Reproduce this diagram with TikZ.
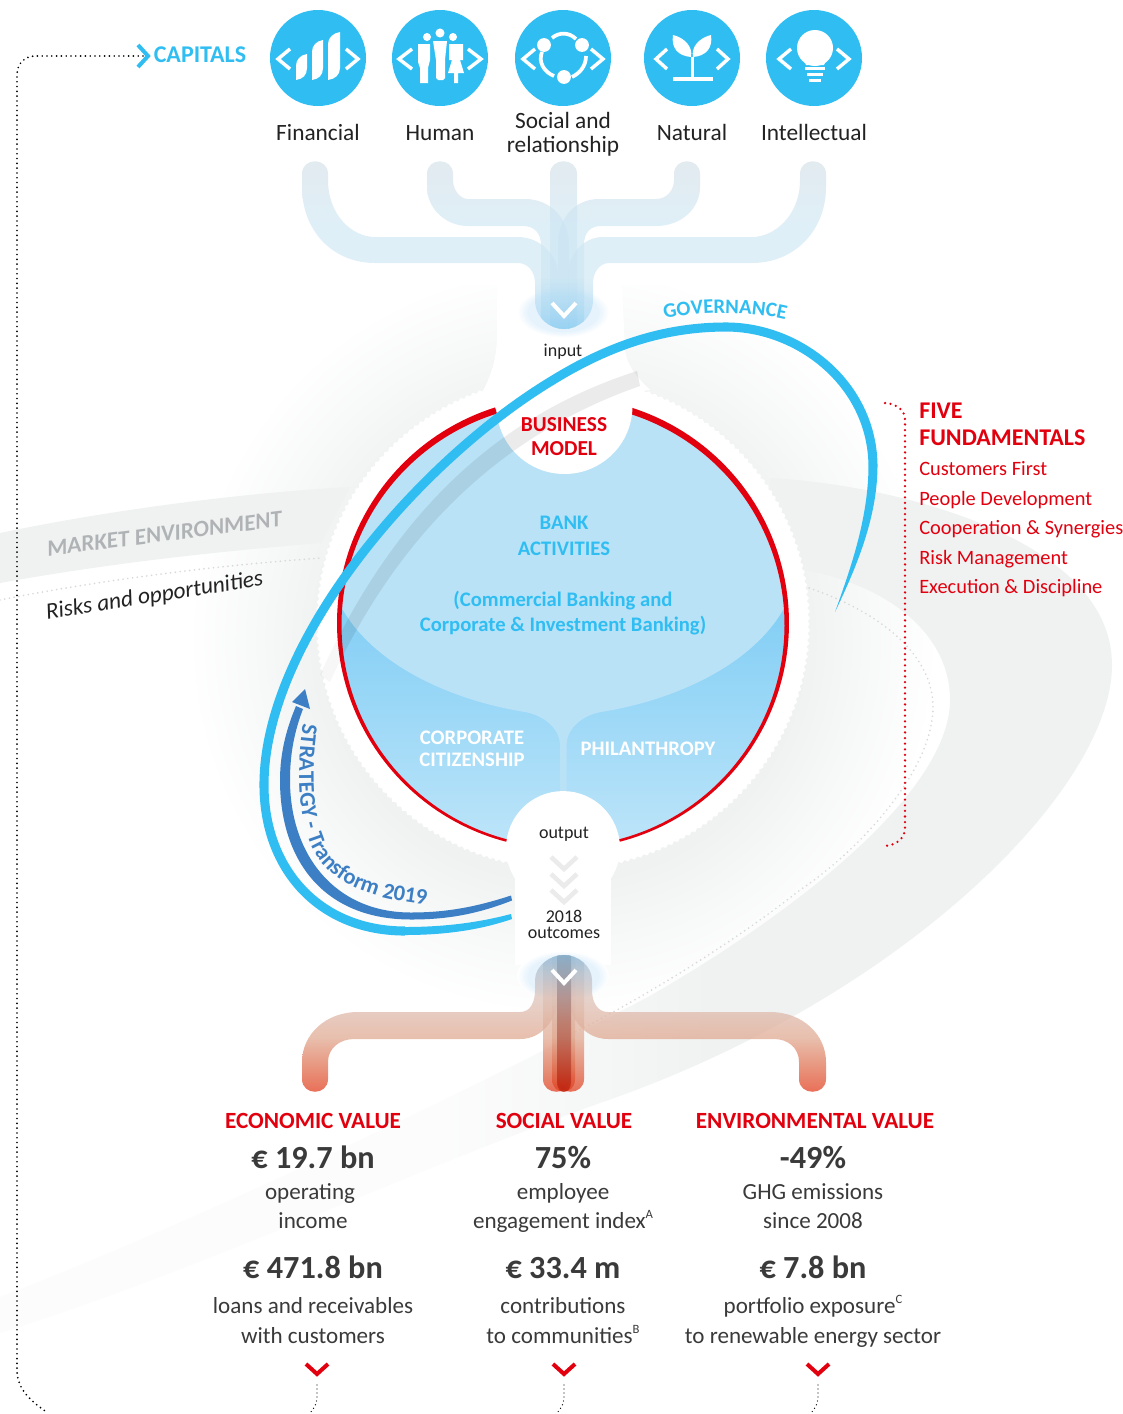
\documentclass[tikz,border=0pt]{standalone}
\usepackage{fontspec}
\setmainfont{Carlito}
\usetikzlibrary{decorations.pathmorphing,decorations.text,calc}
\definecolor{cy}{HTML}{30BEF2}
\definecolor{rd}{HTML}{E2000F}
\definecolor{ink}{HTML}{222222}
\definecolor{valc}{HTML}{3A3A3A}
\definecolor{gl}{HTML}{F0F2F2}
\definecolor{glf}{HTML}{FCFCFC}
\definecolor{strat}{HTML}{3C7FC4}
\definecolor{grayt}{HTML}{B0B3B5}
\definecolor{halom}{HTML}{E6F3FC}
\definecolor{bpT}{HTML}{D0DDE5}
\definecolor{bpM}{HTML}{CBE5F3}
\definecolor{bpB}{HTML}{94D0F2}
\definecolor{rpT}{HTML}{9CC0DA}
\definecolor{rpH}{HTML}{DEC2B8}
\definecolor{rpM}{HTML}{E0A890}
\definecolor{rpL}{HTML}{E07050}
\definecolor{rpB}{HTML}{E13010}
\definecolor{rdT}{HTML}{7FA3BD}
\definecolor{rdM}{HTML}{A85A4C}
\definecolor{rdB}{HTML}{B01000}
\pgfdeclareradialshading{glow}{\pgfpoint{0bp}{0bp}}{color(0bp)=(gl); color(16bp)=(gl); color(25bp)=(white); color(50bp)=(white)}
\pgfdeclarehorizontalshading{cres}{100bp}{color(0bp)=(glf); color(45bp)=(glf); color(57bp)=(gl); color(100bp)=(gl)}
\pgfdeclareradialshading{halo}{\pgfpoint{0bp}{0bp}}{color(0bp)=(halom); color(19bp)=(halom); color(25bp)=(white); color(50bp)=(white)}
\pgfdeclareverticalshading{pipeblue}{100bp}{color(0bp)=(bpB); color(25bp)=(bpB); color(40bp)=(bpM); color(55bp)=(bpM); color(75bp)=(bpT); color(100bp)=(bpT)}
\pgfdeclareverticalshading{pipered}{100bp}{color(0bp)=(rpB); color(25bp)=(rpB); color(36bp)=(rpL); color(46bp)=(rpM); color(60bp)=(rpH); color(75bp)=(rpT); color(100bp)=(rpT)}
\pgfdeclareverticalshading{pipedark}{100bp}{color(0bp)=(rdB); color(25bp)=(rdB); color(50bp)=(rdM); color(75bp)=(rdT); color(100bp)=(rdT)}
\newcommand{\fsz}[1]{\fontsize{#1}{#1}\selectfont}
\newcommand{\icchev}[3]{\draw[chevi] ({#1-#3},49) -- ({#1-#2},59) -- ({#1-#3},69);
 \draw[chevi] ({#1+#3},49) -- ({#1+#2},59) -- ({#1+#3},69);}
\newcommand{\sups}[1]{\raisebox{.42em}{\fsz{9.5}#1}}
\tikzset{
 base text/.style={inner sep=0pt,text height=.7em,text depth=.2em,align=center,yshift=-3pt},
 lbl/.style={base text,font=\fsz{17.5},text=ink},
 small/.style={base text,font=\fsz{13.5},text=ink},
 cyt/.style={base text,font=\bfseries\fsz{15.5},text=cy},
 whitet/.style={base text,font=\bfseries\fsz{15.5},text=white},
 redt/.style={base text,font=\bfseries\fsz{16},text=rd},
 redh/.style={base text,font=\bfseries\fsz{17.4},text=rd},
 fundh/.style={base text,anchor=west,font=\bfseries\fsz{18},text=rd},
 fundi/.style={base text,anchor=west,font=\fsz{15.3},text=rd},
 valt/.style={base text,font=\bfseries\fsz{24.2},text=valc,yshift=-2pt},
 dsc/.style={base text,font=\fsz{17.3},text=valc},
 chevw/.style={draw=white,line width=3pt,miter limit=10},
 chevi/.style={draw=white,line width=2.6pt,miter limit=10},
 chevr/.style={draw=rd,line width=3pt,miter limit=10},
 chevg/.style={draw=black!8,line width=3.4pt,miter limit=10},
 blackdots/.style={draw=black,line width=1.4pt,line cap=round,dash pattern=on 0pt off 3.6pt},
 finedots/.style={draw=black,line width=1pt,line cap=round,dash pattern=on 0pt off 3pt},
 reddots/.style={draw=rd,line width=1.9pt,line cap=round,dash pattern=on 0pt off 4.2pt},
 graydots/.style={draw=black!15,line width=1.4pt,line cap=round,dash pattern=on 0pt off 3.6pt},
 ph/.style={shade,shading=pipeblue,opacity=.6},
 rp/.style={shade,shading=pipered,opacity=.72},
 rpd/.style={shade,shading=pipedark,opacity=.6},
}
\begin{document}
\begin{tikzpicture}[x=.75pt,y=-.75pt]
\path[use as bounding box,clip] (0,0) rectangle (1122,1414);
\fill[white] (0,0) rectangle (1122,1414);

% background glow and swoosh
\begin{scope}
 \clip (0,285) rectangle (1122,1060);
 \shade[shading=glow] (563,640) circle[radius=281pt];
\end{scope}
\shade[shading=cres] (770,478) .. controls (900,485) and (1112,540) .. (1112,665)
 .. controls (1112,790) and (900,1000) .. (600,1103)
 .. controls (400,1175) and (200,1270) .. (0,1333) -- (0,1297)
 .. controls (200,1220) and (450,1100) .. (648,997)
 .. controls (800,910) and (950,790) .. (950,700)
 .. controls (950,630) and (880,575) .. (770,565) -- cycle;
\path[graydots] (800,585) .. controls (880,610) and (933,655) .. (933,707)
 .. controls (933,770) and (860,850) .. (800,890) .. controls (730,945) and (640,1000) .. (560,1040);
% market environment band
\fill[gl] (0,533) .. controls (110,510) and (240,493) .. (350,487) -- (321,543)
 .. controls (200,553) and (100,565) .. (0,583) -- cycle;
\path[graydots] (0,600) .. controls (100,580) and (220,565) .. (322,558);
% white column above the sphere
\fill[white] (497,284) -- (622,284) -- (625,350) .. controls (627,365) and (635,375) .. (650,390)
 -- (470,410) .. controls (490,385) and (497,360) .. (497,335) -- cycle;
% scalloped white ring
\fill[white,decorate,decoration={zigzag,segment length=5pt,amplitude=.9pt}] (563,623) circle[radius=184.5pt];

% sphere
\definecolor{domec}{HTML}{B9E2F7}
\definecolor{lowt}{HTML}{82CEF5}
\definecolor{lowb}{HTML}{BEE5F9}
\begin{scope}
 \clip (563,623) circle[radius=168pt];
 \shade[top color=lowt,bottom color=lowb] (330,605) rectangle (800,850);
 \fill[domec] (330,390) -- (800,390) -- (800,610) -- (783,610)
  .. controls (751,665) and (676,700) .. (601,712)
  .. controls (580,716) and (566.5,730) .. (566.5,745) -- (566.5,795) -- (560,795) -- (560,745)
  .. controls (560,730) and (546,716) .. (525,712)
  .. controls (450,700) and (375,665) .. (343,610) -- (330,610) -- cycle;
\end{scope}
% red rim, heavier at the top
\fill[rd] plot[domain=72.5:-75.5,samples=100] ({563+226*cos(\x)},{623-226*sin(\x)})
 -- plot[domain=-75.5:72.5,samples=100] ({563+(221.5-2*sin(\x))*cos(\x)},{623-(221.5-2*sin(\x))*sin(\x)}) -- cycle;
\fill[rd] plot[domain=107.5:255.5,samples=100] ({563+226*cos(\x)},{623-226*sin(\x)})
 -- plot[domain=255.5:107.5,samples=100] ({563+(221.5-2*sin(\x))*cos(\x)},{623-(221.5-2*sin(\x))*sin(\x)}) -- cycle;
% notches
\fill[white] (564.5,406) circle[radius=51pt];
\fill[white] (563,848) circle[radius=42.7pt];
\fill[white] (515,845) rectangle (611,965);
% gray band across the sphere, faint where it leaves the sphere
\begin{scope}
 \clip (340,300) rectangle (700,700);
 \fill[black,opacity=.08] (637,371) .. controls (500,415) and (395,510) .. (320,675)
 -- (330,682) .. controls (400,530) and (505,433) .. (640,386) -- cycle;
\end{scope}
\begin{scope}
 \clip (300,300) rectangle (340,700);
 \fill[black,opacity=.03] (637,371) .. controls (500,415) and (395,510) .. (320,675)
 -- (330,682) .. controls (400,530) and (505,433) .. (640,386) -- cycle;
\end{scope}

% top pipes
\shade[shading=halo] (563,312) ellipse[x radius=34.5pt,y radius=19pt];
\begin{scope}
 \clip (292,150) -- (835,150) -- (835,300) -- (593,300) .. controls (593,318) and (578,329) .. (564,329)
  .. controls (550,329) and (535,318) .. (535,300) -- (292,300) -- cycle;
 \path[ph] (302,174) .. controls (302,157) and (328,157) .. (328,174) -- (328,180)
  .. controls (328,215) and (352,237) .. (375,237) -- (518,237)
  .. controls (540,237) and (558,255) .. (558,275) -- (558,329) -- (535,329) -- (535,283)
  .. controls (535,272) and (528,263) .. (518,263) -- (375,263)
  .. controls (332,263) and (302,230) .. (302,187) -- cycle;
 \path[ph] (826,174) .. controls (826,157) and (800,157) .. (800,174) -- (800,180)
  .. controls (800,215) and (775,237) .. (752,237) -- (603,237)
  .. controls (583,237) and (568,255) .. (568,275) -- (568,329) -- (593,329) -- (593,283)
  .. controls (593,272) and (600,263) .. (609,263) -- (752,263)
  .. controls (795,263) and (826,230) .. (826,187) -- cycle;
 \path[ph] (427,174) .. controls (427,157) and (453,157) .. (453,174) -- (453,180)
  .. controls (453,190) and (460,199) .. (468,199) -- (525,199)
  .. controls (550,199) and (569,218) .. (569,245) -- (569,329) -- (541,329) -- (541,245)
  .. controls (541,233) and (534,226) .. (523,226) -- (468,226)
  .. controls (445,226) and (427,208) .. (427,187) -- cycle;
 \path[ph] (700,174) .. controls (700,157) and (674,157) .. (674,174) -- (674,180)
  .. controls (674,190) and (667,199) .. (656,199) -- (599,199)
  .. controls (575,199) and (558,218) .. (558,245) -- (558,329) -- (584,329) -- (584,245)
  .. controls (584,233) and (590,226) .. (601,226) -- (656,226)
  .. controls (682,226) and (700,208) .. (700,187) -- cycle;
 \path[ph] (550,174) .. controls (550,157) and (577,157) .. (577,174) -- (577,329) -- (550,329) -- cycle;
\end{scope}
\draw[chevw] (552,303) -- (564,316) -- (576,303);

% bottom pipes
\shade[shading=halo] (563,976) ellipse[x radius=34.5pt,y radius=19pt];
\begin{scope}
 \clip (292,1100) -- (835,1100) -- (835,980) -- (592,980) .. controls (592,966) and (578,955) .. (564,955)
  .. controls (550,955) and (535,966) .. (535,980) -- (292,980) -- cycle;
 \path[rp] (535,955) -- (535,990) .. controls (535,1003) and (530,1012) .. (520,1012) -- (358,1012)
  .. controls (325,1012) and (302,1035) .. (302,1062) -- (302,1079)
  .. controls (302,1096) and (328,1096) .. (328,1079) -- (328,1062)
  .. controls (328,1048) and (340,1039) .. (354,1039) -- (520,1039)
  .. controls (545,1039) and (560,1015) .. (560,985) -- (560,955) -- cycle;
 \path[rp] (592,955) -- (592,990) .. controls (592,1003) and (598,1012) .. (608,1012) -- (770,1012)
  .. controls (803,1012) and (826,1035) .. (826,1062) -- (826,1079)
  .. controls (826,1096) and (799,1096) .. (799,1079) -- (799,1062)
  .. controls (799,1048) and (788,1039) .. (774,1039) -- (608,1039)
  .. controls (583,1039) and (566,1015) .. (566,985) -- (566,955) -- cycle;
 \path[rp] (543,955) -- (570,955) -- (570,1079) .. controls (570,1096) and (543,1096) .. (543,1079) -- cycle;
 \path[rp] (557,955) -- (584,955) -- (584,1079) .. controls (584,1096) and (557,1096) .. (557,1079) -- cycle;
 \path[rp] (552,955) -- (575,955) -- (575,1079) .. controls (575,1096) and (552,1096) .. (552,1079) -- cycle;
 \path[rpd] (557,955) -- (571,955) -- (571,1082) .. controls (571,1095) and (557,1095) .. (557,1082) -- cycle;
\end{scope}
\draw[chevw] (552,970) -- (564,983) -- (576,970);

% output chevrons
\draw[chevg] (551,857) -- (564,869) -- (577,857);
\draw[chevg] (551,874) -- (564,886) -- (577,874);
\draw[chevg] (551,890) -- (564,902) -- (577,890);

% governance swoosh
\fill[cy] (511,914) .. controls (475,923.5) and (440,927) .. (405,927) -- (405,935) .. controls (445,935) and (480,930) .. (512,919) -- cycle;
\draw[cy,line width=6.8pt] (405,931)
 .. controls (320,931) and (264,870) .. (264,785) .. controls (264,640) and (420,460) .. (553,380)
 .. controls (610,345) and (665,327) .. (726,327) .. controls (800,327) and (873,385) .. (873,467);
\fill[cy] (877.5,467) .. controls (877,520) and (855,570) .. (835,612) .. controls (850,570) and (868,520) .. (868.5,467) -- cycle;

% strategy arrow
\fill[strat] (511,895.5) .. controls (470,909) and (440,912.5) .. (411,912.5)
 .. controls (335,912.5) and (290,855) .. (290,780) .. controls (290,752) and (295,730) .. (303,709)
 -- (296,706) .. controls (288,725) and (280,750) .. (280,780)
 .. controls (280,862) and (325,919.5) .. (411,919.5) .. controls (445,919.5) and (475,915) .. (512,900.5) -- cycle;
\fill[strat] (305,689) -- (310,709) -- (292,702) -- cycle;
\path[decorate,decoration={text along path,text align=center,text={|\fsz{16.8}\bfseries\color{strat}|STRATEGY - Transform 2019}}]
 (306,705) .. controls (296,760) and (296,810) .. (312,848) .. controls (330,885) and (375,902) .. (445,906);
\path[decorate,decoration={text along path,text align=center,text={|\fsz{15.5}\bfseries\color{cy}|GOVERNANCE}}]
 (664,319) .. controls (700,311) and (750,311) .. (786,320);

% capital icons
\foreach \cx in {318,440,563,692,814}{\fill[cy] (\cx,58) circle[radius=36pt];}
\icchev{318}{40}{28}\icchev{440}{41}{28}\icchev{563}{40}{28}\icchev{692}{36}{25}\icchev{814}{35}{23}
% financial
\fill[white] (296,80) -- (296,66) .. controls (296,60) and (300,55) .. (307,54) -- (307,68) .. controls (307,75) and (303,79) .. (296,80) -- cycle;
\fill[white] (312,80) -- (312,52) .. controls (312,46) and (316,41) .. (323,40) -- (323,68) .. controls (323,75) and (319,79) .. (312,80) -- cycle;
\fill[white] (328,80) -- (328,44) .. controls (328,38) and (333,33) .. (340,32) -- (340,68) .. controls (340,75) and (335,79) .. (328,80) -- cycle;
% human
\fill[white] (440,33) circle[radius=3.4pt] (427,37) circle[radius=3pt] (453,37) circle[radius=3pt];
\fill[white] (433,41) -- (447,41) -- (445,60) -- (445,78) -- (443,80) -- (438,80) -- (436,78) -- (436,60) -- cycle;
\fill[white] (418,44) -- (430,44) -- (430,60) -- (428,68) -- (428,83) -- (420,83) -- (420,68) -- (418,62) -- cycle;
\fill[white] (449,44) -- (463,44) -- (463,60) -- (460,60) -- (464,73) -- (458,73) -- (458,83) -- (454,83) -- (454,73) -- (448,73) -- (452,60) -- (449,60) -- cycle;
% social
\fill[white] (544,45) circle[radius=5.2pt] (582,45) circle[radius=5.2pt] (564,77) circle[radius=5.2pt];
\draw[white,line width=2.8pt] (552,38) .. controls (559,32) and (569,32) .. (576,39);
\draw[white,line width=2.8pt] (542,52) .. controls (538,62) and (544,72) .. (554,76);
\draw[white,line width=2.8pt] (586,56) .. controls (586,66) and (580,73) .. (572,77);
% natural
\fill[white] (673,35) .. controls (671,48) and (678,56) .. (691,57) .. controls (693,47) and (685,38) .. (673,35) -- cycle;
\fill[white] (711,35) .. controls (713,48) and (706,56) .. (693,57) .. controls (691,47) and (699,38) .. (711,35) -- cycle;
\fill[white] (691,57) rectangle (694,78);
\draw[white,line width=2.3pt] (673,79) -- (713,79);
% intellectual
\fill[white] (815,48) circle[radius=13.5pt];
\fill[white] (803,58) -- (827,58) -- (824,65) -- (806,65) -- cycle;
\draw[white,line width=2.2pt] (805,68.5) -- (825,68.5);
\draw[white,line width=2.2pt] (807,74.5) -- (823,74.5);
\draw[white,line width=2.2pt] (809,80.5) -- (821,80.5);

% capitals labels
\node[base text,font=\bfseries\fsz{18},text=cy] (capitals) at (200,55) {CAPITALS};
\node[lbl] (fin) at (318,133) {Financial};
\node[lbl] (hum) at (440,133) {Human};
\node[lbl] (soc1) at (563,121) {Social and};
\node[lbl] (soc2) at (563,145) {relationship};
\node[lbl] (nat) at (692,133) {Natural};
\node[lbl] (int) at (814,133) {Intellectual};
% capitals loop
\coordinate (loopa) at (143,56);
\coordinate (loopb) at (48,1413);
\draw[blackdots] (loopa) -- (36,56) .. controls (24,56) and (17,64) .. (17,75) -- (17,1370) .. controls (17,1390) and (32,1402) .. (loopb);
\draw[cy,line width=3pt,miter limit=10] (138,45) -- (148,56) -- (138,67);

% central labels
\node[small] (input) at (563,349) {input};
\node[small] (output) at (564,831) {output};
\node[small] (y2018) at (564,915) {2018};
\node[small] (outc) at (564,931) {outcomes};
\node[redt] (bm1) at (564,424) {BUSINESS};
\node[redt] (bm2) at (564,448) {MODEL};
\node[cyt] (ba1) at (564,522) {BANK};
\node[cyt] (ba2) at (564,548) {ACTIVITIES};
\node[cyt] (ba3) at (563,599) {(Commercial Banking and};
\node[cyt] (ba4) at (563,624) {Corporate \& Investment Banking)};
\node[whitet] (cc1) at (472,737) {CORPORATE};
\node[whitet] (cc2) at (472,759) {CITIZENSHIP};
\node[whitet] (ph) at (648,748) {PHILANTHROPY};
\node[base text,font=\bfseries\itshape\fsz{17.4},text=grayt,rotate=7.3] (mkt) at (165,534) {MARKET ENVIRONMENT};
\node[base text,font=\itshape\fsz{17.5},text=ink,rotate=9] (risk) at (155,595) {Risks and opportunities};

% five fundamentals
\coordinate (bra) at (885,403);
\coordinate (brb) at (885,846);
\draw[reddots] (bra) .. controls (897,404) and (905,410) .. (905,420) -- (905,828) .. controls (905,838) and (897,845) .. (brb);
\node[fundh] (f1) at (919,411) {FIVE};
\node[fundh] (f2) at (919,438) {FUNDAMENTALS};
\node[fundi] (f3) at (919,468) {Customers First};
\node[fundi] (f4) at (919,498) {People Development};
\node[fundi] (f5) at (919,527) {Cooperation \& Synergies};
\node[fundi] (f6) at (919,557) {Risk Management};
\node[fundi] (f7) at (919,586) {Execution \& Discipline};

% values
\node[redh] (v1) at (313,1121) {ECONOMIC VALUE};
\node[redh] (v2) at (564,1121) {SOCIAL VALUE};
\node[redh] (v3) at (815,1121) {ENVIRONMENTAL VALUE};
\node[valt] (a1) at (313,1158) {€ 19.7 bn};
\node[valt] (a2) at (563,1158) {75\%};
\node[valt] (a3) at (813,1158) {-49\%};
\node[dsc] (b1) at (310,1192) {operating};
\node[dsc] (b2) at (563,1192) {employee};
\node[dsc] (b3) at (813,1192) {GHG emissions};
\node[dsc] (c1) at (313,1221) {income};
\node[dsc] (c2) at (563,1221) {engagement index\sups{A}};
\node[dsc] (c3) at (813,1221) {since 2008};
\node[valt] (d1) at (313,1268) {€ 471.8 bn};
\node[valt] (d2) at (563,1268) {€ 33.4 m};
\node[valt] (d3) at (813,1268) {€ 7.8 bn};
\node[dsc] (e1) at (313,1306) {loans and receivables};
\node[dsc] (e2) at (563,1306) {contributions};
\node[dsc] (e3) at (813,1306) {portfolio exposure\sups{C}};
\node[dsc] (g1) at (313,1336) {with customers};
\node[dsc] (g2) at (563,1336) {to communities\sups{B}};
\node[dsc] (g3) at (813,1336) {to renewable energy sector};
\foreach \vx in {317,564,818}{
 \draw[chevr] ({\vx-11},1364) -- (\vx,1374) -- ({\vx+11},1364);
 \coordinate (va) at (\vx,1385);
 \coordinate (vb) at ({\vx-8},1414);
 \draw[finedots] (va) -- (\vx,1397) .. controls (\vx,1404) and ({\vx-3},1409) .. (vb);
}
\end{tikzpicture}
\end{document}
